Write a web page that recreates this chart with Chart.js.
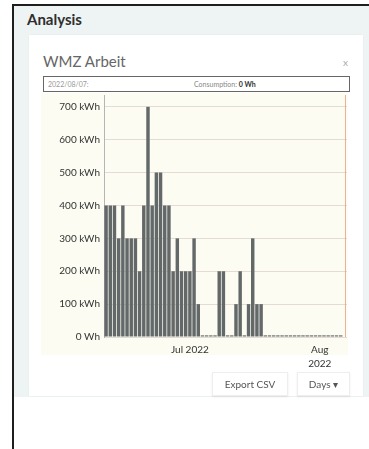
<!DOCTYPE html>
<html>
<head>
<meta charset="utf-8">
<script src="https://cdn.jsdelivr.net/npm/chart.js@4/dist/chart.umd.min.js"></script>
<style>
  html, body { margin: 0; background: #fff; font-family: Lato, "Open Sans", sans-serif; overflow: hidden; }
  #frame { position: absolute; left: 12px; top: 4px; width: 355px; height: 445px;
    border-left: 2px solid #1e1e1e; border-top: 2px solid #1e1e1e; }
  #panel { position: absolute; left: 0; top: 0; right: 0; height: 391px; background: #eef3f4; }
  #heading { position: absolute; left: 13px; top: 4px; font-size: 15px; font-weight: bold; color: #2e2e2e; }
  #card { position: absolute; left: 15px; top: 29px; width: 334px; height: 361px; background: #fff;
    box-shadow: 0 0 2px rgba(0,0,0,0.05); }
  #title { position: absolute; left: 14px; top: 17px; font-size: 15px; color: #666; }
  #close { position: absolute; left: 314px; top: 21px; font-size: 10px; color: #aaa; }
  #info { position: absolute; left: 14px; top: 41px; width: 305px; height: 14px; border: 1px solid #666;
    font-size: 7px; color: #999; }
  #info .date { position: absolute; left: 4px; top: 3px; }
  #info .cons { position: absolute; left: 150px; top: 3px; color: #888; }
  #info b { color: #333; }
  #bg { position: absolute; left: 12px; top: 58px; width: 307px; height: 262px; background: #fcfcf3; }
  #chartwrap { position: absolute; left: 12px; top: 58px; }
  .btn { position: absolute; top: 337px; height: 22px; line-height: 22px; text-align: center;
    font-size: 10px; color: #555; border: 1px solid #eee; box-shadow: 0 1px 2px rgba(0,0,0,0.08); background: #fff; }
</style>
</head>
<body>
<div id="frame">
  <div id="panel">
    <div id="heading">Analysis</div>
    <div id="card">
      <div id="title">WMZ Arbeit</div>
      <div id="close">x</div>
      <div id="info"><span class="date">2022/08/07:</span><span class="cons">Consumption: <b>0 Wh</b></span></div>
      <div id="bg"></div>
      <div id="chartwrap"><canvas id="wmz-chart" width="308" height="278"></canvas></div>
      <div class="btn" style="left:183px;width:74px;">Export CSV</div>
      <div class="btn" style="left:268px;width:51px;">Days &#9662;</div>
    </div>
  </div>
</div>
<script>
// tage und verbrauch (kWh)
const days = [
  '2022-06-11', '2022-06-12', '2022-06-13', '2022-06-14', '2022-06-15', '2022-06-16', '2022-06-17',
  '2022-06-18', '2022-06-19', '2022-06-20', '2022-06-21', '2022-06-22', '2022-06-23', '2022-06-24',
  '2022-06-25', '2022-06-26', '2022-06-27', '2022-06-28', '2022-06-29', '2022-06-30',
  '2022-07-01', '2022-07-02', '2022-07-03', '2022-07-04', '2022-07-05', '2022-07-06', '2022-07-07',
  '2022-07-08', '2022-07-09', '2022-07-10', '2022-07-11', '2022-07-12', '2022-07-13', '2022-07-14',
  '2022-07-15', '2022-07-16', '2022-07-17', '2022-07-18', '2022-07-19', '2022-07-20', '2022-07-21',
  '2022-07-22', '2022-07-23', '2022-07-24', '2022-07-25', '2022-07-26', '2022-07-27', '2022-07-28',
  '2022-07-29', '2022-07-30', '2022-07-31',
  '2022-08-01', '2022-08-02', '2022-08-03', '2022-08-04', '2022-08-05', '2022-08-06', '2022-08-07'
];
const consumption = [
  400, 400, 400, 300, 400, 300, 300, 300, 200, 400,
  700, 400, 500, 500, 400, 400, 200, 300, 200, 200,
  200, 300, 100, 5, 5, 5, 5, 200, 200, 5,
  5, 100, 200, 5, 100, 300, 100, 100, 5, 5,
  5, 5, 5, 5, 5, 5, 5, 5, 5, 5,
  5, 5, 5, 5, 5, 5, 5, 0
];
const monthTicks = { '2022-07-01': 'Jul 2022', '2022-08-01': ['Aug', '2022'] };
const selectedDay = '2022-08-07';
const yTicks = [0, 100, 200, 300, 400, 500, 600, 700];
const yMax = 736;

//senkrechte linie am gewählten tag
const markerLine = {
  id: 'markerLine',
  afterDatasetsDraw(chart) {
    const { ctx, chartArea, scales } = chart;
    const x = Math.round(scales.x.getPixelForValue(days.indexOf(selectedDay))) + 0.5;
    ctx.save();
    ctx.strokeStyle = 'rgba(238,150,125,0.75)';
    ctx.lineWidth = 1;
    ctx.beginPath();
    ctx.moveTo(x, chartArea.top);
    ctx.lineTo(x, chartArea.bottom);
    ctx.stroke();
    ctx.restore();
  }
};

(() => {
  const ctx = document.getElementById('wmz-chart').getContext('2d');
  new Chart(ctx, {
    type: 'bar',
    data: {
      labels: days,
      datasets: [{
        data: consumption,
        backgroundColor: '#636869',
        borderWidth: 0,
        barPercentage: 1,
        categoryPercentage: 0.82
      }]
    },
    options: {
      responsive: false,
      animation: false,
      layout: { padding: { top: 2, right: 2, left: 0, bottom: 0 } },
      plugins: { legend: { display: false }, tooltip: { enabled: false } },
      scales: {
        x: {
          grid: { display: false, drawTicks: false },
          border: { display: false },
          afterFit: (scale) => { scale.height = 34; scale.paddingLeft = 0; scale.paddingRight = 0; },
          ticks: {
            autoSkip: false,
            maxRotation: 0,
            padding: 6,
            color: '#333',
            font: { family: 'Lato', size: 10, lineHeight: 1.4 },
            callback: (v, i) => monthTicks[days[i]] || ''
          }
        },
        y: {
          min: 0,
          max: yMax,
          afterBuildTicks: (scale) => { scale.ticks = yTicks.map(v => ({ value: v })); },
          afterFit: (scale) => { scale.width = 63; scale.paddingTop = 0; scale.paddingBottom = 0; },
          grid: { color: '#e4dbd4', drawTicks: false },
          border: { display: true, color: '#b5b5b5' },
          ticks: {
            padding: 4,
            color: '#333',
            font: { family: 'Lato', size: 10 },
            callback: (v) => v === 0 ? '0 Wh' : v + ' kWh'
          }
        }
      }
    },
    plugins: [markerLine]
  });
})();
</script>
</body>
</html>
